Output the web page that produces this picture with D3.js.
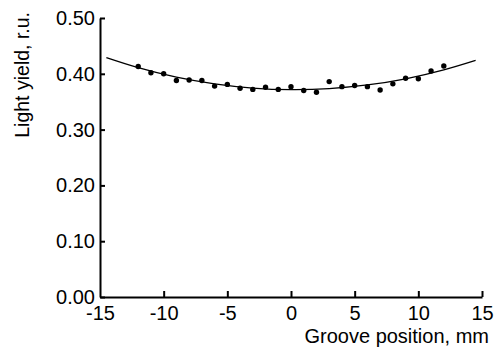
<!DOCTYPE html>
<html><head><meta charset="utf-8">
<script src="https://cdn.jsdelivr.net/npm/d3@7"></script>
<style>
html,body{margin:0;padding:0;background:#fff;}
svg{display:block;}
text{font-family:"Liberation Sans",Arial,sans-serif;fill:#000;}
</style></head>
<body>
<svg id="c" width="496" height="347"></svg>
<script>
// Measured points: groove position (mm) and light yield (r.u.)
const positions = [-12,-11,-10,-9,-8,-7,-6,-5,-4,-3,-2,-1,0,1,2,3,4,5,6,7,8,9,10,11,12];
const lightYield = [0.413,0.402,0.400,0.388,0.389,0.388,0.378,0.381,0.374,0.372,0.376,0.372,0.377,0.370,0.367,0.386,0.377,0.379,0.377,0.371,0.382,0.392,0.391,0.405,0.414];
// Fitted curve at these positions
const fitX = [-14.5,-12,-9,-6,-3,0,3,6,9,12,14.5];
const fitY = [0.429,0.411,0.394,0.382,0.3744,0.3715,0.3734,0.380,0.391,0.407,0.424];
// Tick values
const xTicks = [-15,-10,-5,0,5,10,15];
const yTicks = [0,0.1,0.2,0.3,0.4,0.5];
const xTitle = "Groove position, mm";
const yTitle = "Light yield, r.u.";

const svg = d3.select("#c");
const x = d3.scaleLinear().domain([-15,15]).range([100,482]);
const y = d3.scaleLinear().domain([0,0.5]).range([297,18]);

// fitted curve
const line = d3.line().x(d=>x(d[0])).y(d=>y(d[1])).curve(d3.curveNatural);
svg.append("path").datum(fitX.map((v,i)=>[v,fitY[i]]))
  .attr("d",line).attr("fill","none").attr("stroke","#000").attr("stroke-width",1.3);

// points
svg.append("g").selectAll("circle").data(positions).join("circle")
  .attr("cx",(d)=>x(d)).attr("cy",(d,i)=>y(lightYield[i])).attr("r",2.7).attr("fill","#000");

// axes
const fs = 20;
const xa = svg.append("g").attr("transform",`translate(0,${y(0)})`)
  .call(d3.axisBottom(x).tickValues(xTicks).tickSizeInner(-6).tickSizeOuter(0).tickPadding(8.5)
    .tickFormat(d=>d<0?"-"+Math.abs(d):String(d)));
const ya = svg.append("g").attr("transform",`translate(${x(-15)},0)`)
  .call(d3.axisLeft(y).tickValues(yTicks).tickSizeInner(-5).tickSizeOuter(0).tickPadding(5)
    .tickFormat(d3.format(".2f")));
[xa,ya].forEach(g=>{
  g.selectAll("path.domain").attr("stroke","#000").attr("stroke-width",2);
  g.selectAll(".tick line").attr("stroke","#000").attr("stroke-width",2);
  g.selectAll("text").attr("font-size",fs).attr("font-family","Liberation Sans, Arial, sans-serif").attr("fill","#000");
});
xa.selectAll(".tick").filter(d=>d===-15).select("line").remove();

// titles
svg.append("text").attr("x",489).attr("y",343).attr("text-anchor","end")
  .attr("font-size",20).text(xTitle);
svg.append("text").attr("transform","translate(29,12) rotate(-90)").attr("text-anchor","end")
  .attr("font-size",19.5).text(yTitle);
</script>
</body></html>
